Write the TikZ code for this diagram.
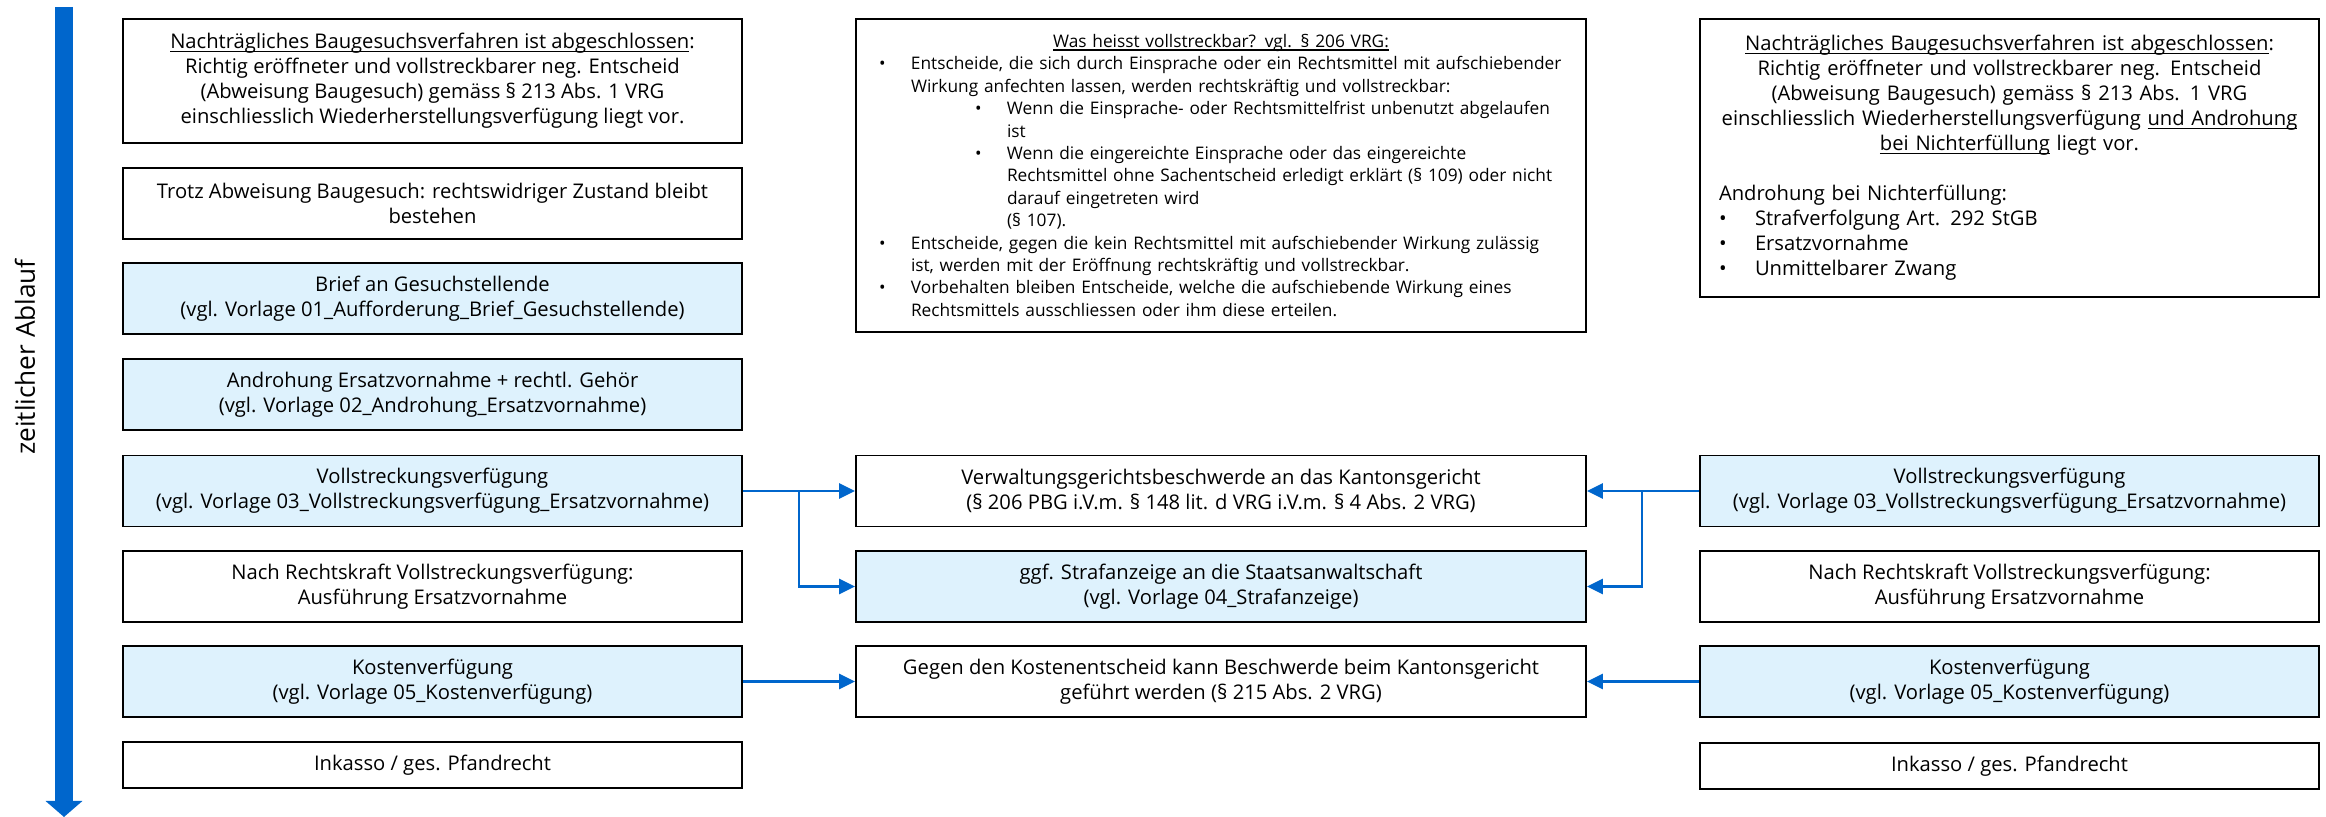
\documentclass[tikz,border=0pt]{standalone}
\usepackage{fontspec}
\setmainfont{Open Sans}
\usetikzlibrary{arrows.meta}
\definecolor{ablaufblau}{RGB}{0,102,204}
\definecolor{hellblau}{RGB}{222,242,253}
\newcommand{\boxschrift}{\fontsize{10.1pt}{12.5pt}\selectfont}
\newcommand{\kleinschrift}{\fontsize{8.65pt}{11.2pt}\selectfont}
\newcommand{\pkt}[3]{\hspace*{#1}\makebox[\dimexpr#2-#1\relax][l]{\textbullet}#3}
\newlength{\ulbreite}
\newcommand{\unterstrichen}[1]{\settowidth{\ulbreite}{#1}\rlap{\rule[-1.5pt]{\ulbreite}{0.6pt}}#1}
\begin{document}
\begin{tikzpicture}[x = 0.5pt, y = -0.5pt,
        kasten/.style = {draw = black, line width = 0.9pt, inner sep = 0pt, minimum width = 309.5pt, minimum height = 35.5pt, align = center, font = \boxschrift},
        vorlage/.style = {kasten, fill = hellblau},
        verbindung/.style = {ablaufblau, line width = 1.4pt, -{Triangle[length = 8pt, width = 7.5pt]}}]
    \useasboundingbox (0,0) rectangle (2326,817);
    \begin{scope}
        \coordinate (zeitanfang) at (64,7);
        \coordinate (zeitende) at (64,817);
        \draw[ablaufblau, line width = 9pt, -{Triangle[length = 8pt, width = 18pt]}] (zeitanfang) -- (zeitende);
        \node[rotate = 90, font = \fontsize{13.1pt}{15pt}\selectfont] (zeitachse) at (25,357) {zeitlicher Ablauf};
    \end{scope}
    \node[kasten, minimum height = 62pt] (abschlussL) at (432.5,81) {\unterstrichen{Nachträgliches Baugesuchsverfahren ist abgeschlossen}:\\ Richtig eröffneter und vollstreckbarer neg. Entscheid\\ (Abweisung Baugesuch) gemäss § 213 Abs. 1 VRG\\ einschliesslich Wiederherstellungsverfügung liegt vor.};
    \node[kasten] (zustand) at (432.5,203.5) {Trotz Abweisung Baugesuch: rechtswidriger Zustand bleibt\\ bestehen};
    \node[vorlage] (brief) at (432.5,298.5) {Brief an Gesuchstellende\\ (vgl. Vorlage 01\_Aufforderung\_Brief\_Gesuchstellende)};
    \node[vorlage] (androhung) at (432.5,394.5) {Androhung Ersatzvornahme + rechtl. Gehör\\ (vgl. Vorlage 02\_Androhung\_Ersatzvornahme)};
    \node[vorlage] (vollstrL) at (432.5,491) {Vollstreckungsverfügung\\ (vgl. Vorlage 03\_Vollstreckungsverfügung\_Ersatzvornahme)};
    \node[kasten] (ausfuehrungL) at (432.5,586.5) {Nach Rechtskraft Vollstreckungsverfügung:\\ Ausführung Ersatzvornahme};
    \node[vorlage] (kostenL) at (432.5,681.5) {Kostenverfügung\\ (vgl. Vorlage 05\_Kostenverfügung)};
    \node[kasten, minimum height = 23pt] (inkassoL) at (432.5,765) {Inkasso / ges. Pfandrecht};

    \node[kasten, minimum width = 365pt, minimum height = 156.5pt, text width = 365pt, align = left, font = \kleinschrift] (vollstreckbar) at (1221,175.5) {\makebox[365pt]{\unterstrichen{Was heisst vollstreckbar? vgl. § 206 VRG:}}\\
        \pkt{11.5pt}{27.5pt}{Entscheide, die sich durch Einsprache oder ein Rechtsmittel mit aufschiebender}\\
        \hspace*{27.5pt}Wirkung anfechten lassen, werden rechtskräftig und vollstreckbar:\\
        \pkt{59.5pt}{75.5pt}{Wenn die Einsprache- oder Rechtsmittelfrist unbenutzt abgelaufen}\\
        \hspace*{75.5pt}ist\\
        \pkt{59.5pt}{75.5pt}{Wenn die eingereichte Einsprache oder das eingereichte}\\
        \hspace*{75.5pt}Rechtsmittel ohne Sachentscheid erledigt erklärt (§ 109) oder nicht\\
        \hspace*{75.5pt}darauf eingetreten wird\\
        \hspace*{75.5pt}(§ 107).\\
        \pkt{11.5pt}{27.5pt}{Entscheide, gegen die kein Rechtsmittel mit aufschiebender Wirkung zulässig}\\
        \hspace*{27.5pt}ist, werden mit der Eröffnung rechtskräftig und vollstreckbar.\\
        \pkt{11.5pt}{27.5pt}{Vorbehalten bleiben Entscheide, welche die aufschiebende Wirkung eines}\\
        \hspace*{27.5pt}Rechtsmittels ausschliessen oder ihm diese erteilen.};
    \node[kasten, minimum width = 365pt] (beschwerde) at (1221,491) {Verwaltungsgerichtsbeschwerde an das Kantonsgericht\\ (§ 206 PBG i.V.m. § 148 lit. d VRG i.V.m. § 4 Abs. 2 VRG)};
    \node[vorlage, minimum width = 365pt] (strafanzeige) at (1221,586.5) {ggf. Strafanzeige an die Staatsanwaltschaft\\ (vgl. Vorlage 04\_Strafanzeige)};
    \node[kasten, minimum width = 365pt] (kostenentscheid) at (1221,681.5) {Gegen den Kostenentscheid kann Beschwerde beim Kantonsgericht\\ geführt werden (§ 215 Abs. 2 VRG)};

    \node[kasten, minimum height = 139pt, text width = 309.5pt, align = left] (abschlussR) at (2009.5,158) {\makebox[309.5pt]{\unterstrichen{Nachträgliches Baugesuchsverfahren ist abgeschlossen}:}\\
        \makebox[309.5pt]{Richtig eröffneter und vollstreckbarer neg. Entscheid}\\
        \makebox[309.5pt]{(Abweisung Baugesuch) gemäss § 213 Abs. 1 VRG}\\
        \makebox[309.5pt]{einschliesslich Wiederherstellungsverfügung \unterstrichen{und Androhung}}\\
        \makebox[309.5pt]{\unterstrichen{bei Nichterfüllung} liegt vor.}\\[12.5pt]
        \hspace*{9.5pt}Androhung bei Nichterfüllung:\\
        \pkt{9.5pt}{27.5pt}{Strafverfolgung Art. 292 StGB}\\
        \pkt{9.5pt}{27.5pt}{Ersatzvornahme}\\
        \pkt{9.5pt}{27.5pt}{Unmittelbarer Zwang}};
    \node[vorlage] (vollstrR) at (2009.5,491) {Vollstreckungsverfügung\\ (vgl. Vorlage 03\_Vollstreckungsverfügung\_Ersatzvornahme)};
    \node[kasten] (ausfuehrungR) at (2009.5,586.5) {Nach Rechtskraft Vollstreckungsverfügung:\\ Ausführung Ersatzvornahme};
    \node[vorlage] (kostenR) at (2009.5,681.5) {Kostenverfügung\\ (vgl. Vorlage 05\_Kostenverfügung)};
    \node[kasten, minimum height = 23pt] (inkassoR) at (2009.5,766) {Inkasso / ges. Pfandrecht};

    \coordinate (abzweigL) at (799,491);
    \coordinate (abzweigR) at (1642,491);
    \draw[verbindung] (vollstrL.east) -- (beschwerde.west);
    \draw[verbindung] (abzweigL) |- (strafanzeige.west);
    \draw[verbindung] (vollstrR.west) -- (beschwerde.east);
    \draw[verbindung] (abzweigR) |- (strafanzeige.east);
    \draw[verbindung] (kostenL.east) -- (kostenentscheid.west);
    \draw[verbindung] (kostenR.west) -- (kostenentscheid.east);
\end{tikzpicture}
\end{document}
